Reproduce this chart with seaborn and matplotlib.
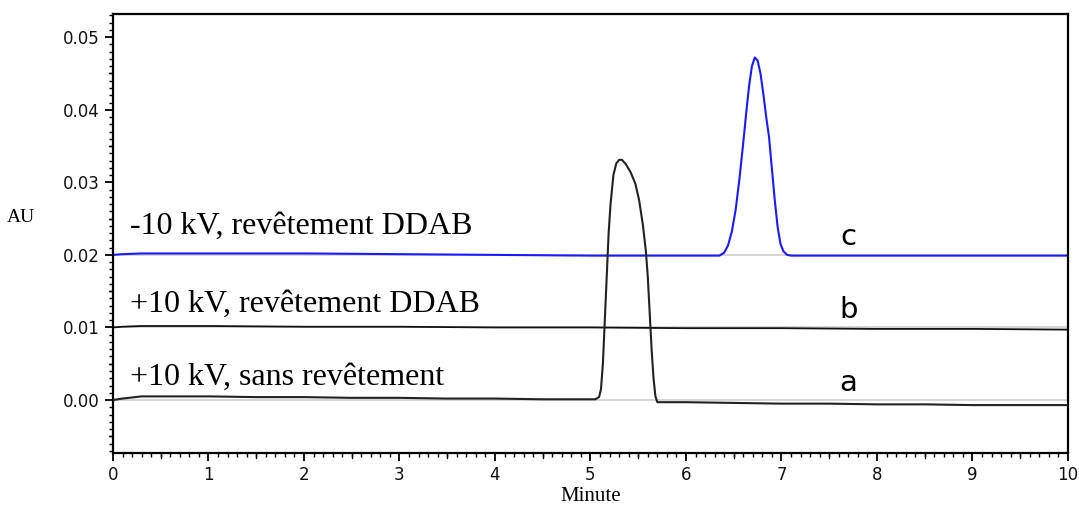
import matplotlib
matplotlib.use("Agg")
import matplotlib.pyplot as plt
import seaborn as sns
import pandas as pd
from matplotlib.ticker import MultipleLocator

# trace a: +10 kV, no coating (offset 0.00)
a_time = [0, 0.1, 0.3, 0.6, 1.0, 1.5, 2.0, 2.5, 3.0, 3.5, 4.0, 4.5, 5.0, 5.05,
          5.09, 5.11, 5.13, 5.15, 5.17, 5.19, 5.21, 5.24, 5.27, 5.30, 5.33, 5.37,
          5.42, 5.47, 5.51, 5.55, 5.58, 5.60, 5.62, 5.64, 5.66, 5.68, 5.70,
          5.8, 6.0, 6.5, 7.0, 7.5, 8.0, 8.5, 9.0, 9.5, 10]
a_au = [0.0000, 0.0002, 0.0005, 0.0005, 0.0005, 0.0004, 0.0004, 0.0003, 0.0003,
        0.0002, 0.0002, 0.0001, 0.0001, 0.0001,
        0.0004, 0.0015, 0.005, 0.011, 0.017, 0.023, 0.027, 0.031, 0.0326, 0.0331,
        0.0331, 0.0325, 0.0314, 0.0298, 0.0275, 0.0240, 0.0205, 0.0170, 0.012,
        0.007, 0.003, 0.0005, -0.0003,
        -0.0003, -0.0003, -0.0004, -0.0005, -0.0005, -0.0006, -0.0006, -0.0007,
        -0.0007, -0.0007]

# trace b: +10 kV, DDAB coating (offset 0.01)
b_time = [0, 0.1, 0.3, 1, 2, 3, 4, 5, 6, 7, 8, 9, 10]
b_au = [0.0100, 0.0101, 0.0102, 0.0102, 0.0101, 0.0101, 0.0100, 0.0100, 0.0099,
        0.0099, 0.0098, 0.0098, 0.0097]

# trace c: -10 kV, DDAB coating (offset 0.02)
c_time = [0, 0.1, 0.3, 1, 2, 3, 4, 5, 6, 6.35, 6.40, 6.44, 6.48, 6.52, 6.56, 6.60,
          6.63, 6.66, 6.69, 6.72, 6.75, 6.78, 6.81, 6.84, 6.87, 6.90, 6.93, 6.96,
          6.99, 7.02, 7.06, 7.10, 7.5, 8, 9, 10]
c_au = [0.0200, 0.0201, 0.0202, 0.0202, 0.0202, 0.0201, 0.0200, 0.0199, 0.0199,
        0.0199, 0.0203, 0.0213, 0.0232, 0.0262, 0.0305, 0.0355, 0.0395, 0.0432,
        0.0460, 0.0472, 0.0468, 0.0450, 0.0422, 0.0390, 0.0362, 0.0318, 0.0275,
        0.0238, 0.0215, 0.0205, 0.0200, 0.0199, 0.0199, 0.0199, 0.0199, 0.0199]

baselines = [0.0, 0.01, 0.02]
trace_labels = ["+10 kV, sans revêtement", "+10 kV, revêtement DDAB", "-10 kV, revêtement DDAB"]
trace_letters = ["a", "b", "c"]

sns.set_style("white")
plt.rcParams['font.family'] = ['DejaVu Sans']
plt.rcParams['text.color'] = 'black'
plt.rcParams['xtick.color'] = 'black'
plt.rcParams['ytick.color'] = 'black'

fig = plt.figure(figsize=(10.79, 5.05), dpi=100)
ax = fig.add_axes([0.1047, 0.103, 0.8851, 0.8693])

for y0 in baselines:
    ax.axhline(y0, color='#d0d0d0', lw=1.2, zorder=1)

sns.lineplot(data=pd.DataFrame({'t': a_time, 'v': a_au}), x='t', y='v', ax=ax,
             color='#222222', lw=1.5, zorder=3)
sns.lineplot(data=pd.DataFrame({'t': b_time, 'v': b_au}), x='t', y='v', ax=ax,
             color='#111111', lw=1.3, zorder=2)
sns.lineplot(data=pd.DataFrame({'t': c_time, 'v': c_au}), x='t', y='v', ax=ax,
             color='#1a1aff', lw=1.5, zorder=2)

ax.set_xlim(0, 10)
ax.set_ylim(-0.0073, 0.0532)
ax.xaxis.set_major_locator(MultipleLocator(1))
ax.xaxis.set_minor_locator(MultipleLocator(0.1))
ax.yaxis.set_major_locator(MultipleLocator(0.01))
ax.yaxis.set_minor_locator(MultipleLocator(0.001))
ax.yaxis.set_major_formatter(matplotlib.ticker.FormatStrFormatter('%.2f'))
ax.tick_params(axis='both', which='major', direction='out', length=6, width=1.3,
               labelsize=12, color='black', labelcolor='#111111', left=True, bottom=True)
ax.tick_params(axis='both', which='minor', direction='out', length=3, width=1,
               color='black', left=True, bottom=True)
# medium ticks at the halves
for x in [0.5 + i for i in range(10)]:
    ax.plot([x, x], [0, -0.012], transform=ax.get_xaxis_transform(), color='black',
            lw=1, clip_on=False)
for y in [-0.005, 0.005, 0.015, 0.025, 0.035, 0.045]:
    ax.plot([0, -0.0045], [y, y], transform=ax.get_yaxis_transform(), color='black',
            lw=1, clip_on=False)

for s in ax.spines.values():
    s.set_color('black')
    s.set_linewidth(1.6)

ax.set_xlabel('Minute', family='Liberation Serif', fontsize=15, labelpad=2, color='black')
ax.set_ylabel('')
fig.text(0.006, 0.570, 'AU', family='Liberation Serif', fontsize=14, va='center')

label_y = [0.0031, 0.0132, 0.0239]
for txt, y in zip(trace_labels, label_y):
    ax.text(0.18, y, txt, family='Liberation Serif', fontsize=23, va='center')
letter_y = [0.0024, 0.0124, 0.0224]
for txt, y in zip(trace_letters, letter_y):
    ax.text(7.7, y, txt, fontsize=21, va='center', ha='center')

fig.savefig('out.png', dpi=100)
